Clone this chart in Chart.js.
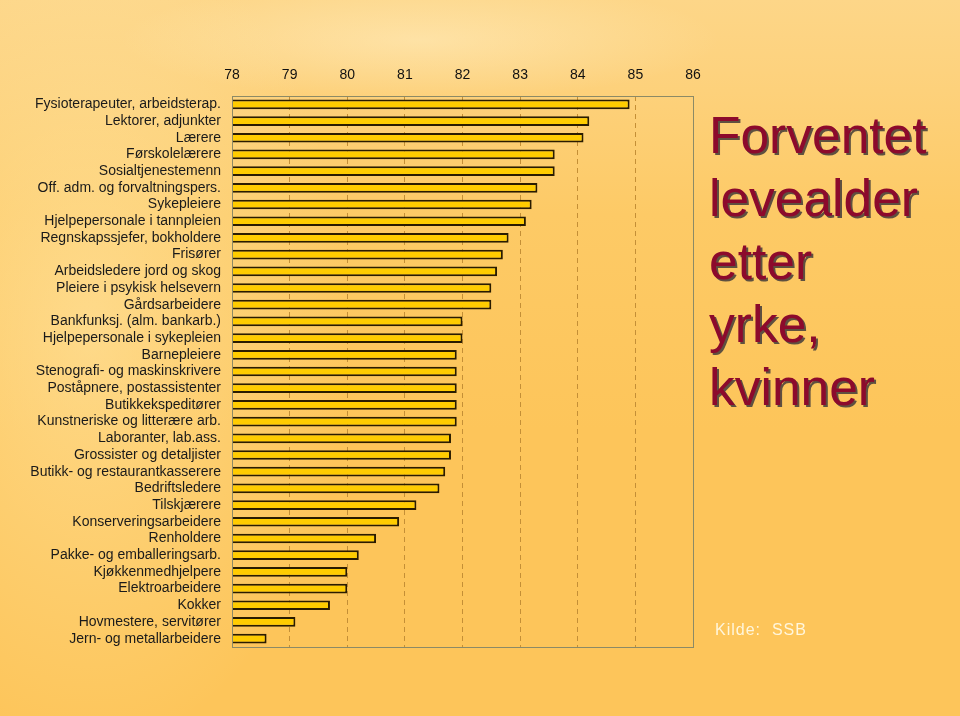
<!DOCTYPE html>
<html>
<head>
<meta charset="utf-8">
<script src="https://cdn.jsdelivr.net/npm/chart.js@4/dist/chart.umd.min.js"></script>
<style>
    html, body { margin: 0; padding: 0; }
    body {
        width: 960px; height: 716px; overflow: hidden; position: relative;
        background:
            radial-gradient(ellipse 260px 420px at 90px 330px, rgba(255, 236, 180, 0.5), rgba(255, 236, 180, 0) 100%),
            radial-gradient(ellipse 300px 60px at 420px 40px, rgba(255, 240, 200, 0.5), rgba(255, 240, 200, 0) 100%),
            linear-gradient(to bottom, #fdd688 0%, #fdd27e 10%, #fdca66 30%, #fdc55a 60%, #fdc55a 100%);
    }
    #chart { position: absolute; left: 0; top: 0; }
    .title {
        position: absolute; left: 709px; top: 104px;
        font-family: "Liberation Sans", Arial, sans-serif; font-size: 51.5px; line-height: 63px;
        color: #8c0a2c; text-shadow: 2px 2px 0 #5e5040;
    }
    .source {
        position: absolute; left: 715px; top: 621px;
        font-family: "Liberation Sans", Arial, sans-serif; font-size: 16px; letter-spacing: 1px;
        color: #fff6dc;
    }
</style>
</head>
<body>
<canvas id="chart" width="960" height="716"></canvas>
<div class="title">Forventet<br>levealder<br>etter<br>yrke,<br>kvinner</div>
<div class="source">Kilde:&nbsp; SSB</div>
<script>
// Occupations, top to bottom
const occupations = [
    'Fysioterapeuter, arbeidsterap.', 'Lektorer, adjunkter', 'Lærere', 'Førskolelærere',
    'Sosialtjenestemenn', 'Off. adm. og forvaltningspers.', 'Sykepleiere',
    'Hjelpepersonale i tannpleien', 'Regnskapssjefer, bokholdere', 'Frisører',
    'Arbeidsledere jord og skog', 'Pleiere i psykisk helsevern', 'Gårdsarbeidere',
    'Bankfunksj. (alm. bankarb.)', 'Hjelpepersonale i sykepleien', 'Barnepleiere',
    'Stenografi- og maskinskrivere', 'Poståpnere, postassistenter', 'Butikkekspeditører',
    'Kunstneriske og litterære arb.', 'Laboranter, lab.ass.', 'Grossister og detaljister',
    'Butikk- og restaurantkasserere', 'Bedriftsledere', 'Tilskjærere',
    'Konserveringsarbeidere', 'Renholdere', 'Pakke- og emballeringsarb.',
    'Kjøkkenmedhjelpere', 'Elektroarbeidere', 'Kokker', 'Hovmestere, servitører',
    'Jern- og metallarbeidere'
];

// Expected life span (years)
const lifeExpectancy = [
    84.9, 84.2, 84.1, 83.6, 83.6, 83.3, 83.2, 83.1, 82.8, 82.7, 82.6,
    82.5, 82.5, 82.0, 82.0, 81.9, 81.9, 81.9, 81.9, 81.9, 81.8, 81.8,
    81.7, 81.6, 81.2, 80.9, 80.5, 80.2, 80.0, 80.0, 79.7, 79.1, 78.6
];

const axisMin = 78;
const axisMax = 86;

// box around the plot area
const plotFrame = {
    id: 'plotFrame',
    afterDatasetsDraw(chart) {
        const a = chart.chartArea;
        const ctx = chart.ctx;
        ctx.save();
        ctx.strokeStyle = '#8c8a66';
        ctx.lineWidth = 1;
        ctx.strokeRect(a.left + 0.5, a.top + 0.5, a.right - a.left, a.bottom - a.top);
        ctx.restore();
    }
};

new Chart(document.getElementById('chart'), {
    type: 'bar',
    data: {
        labels: occupations,
        datasets: [{
            data: lifeExpectancy,
            backgroundColor: '#ffcc00',
            borderColor: '#2a1c00',
            borderWidth: 2,
            borderSkipped: false,
            barPercentage: 0.58,
            categoryPercentage: 1
        }]
    },
    options: {
        indexAxis: 'y',
        responsive: false,
        animation: false,
        layout: { padding: { top: 0, right: 267, bottom: 69, left: 0 } },
        plugins: {
            legend: { display: false },
            tooltip: { enabled: false }
        },
        scales: {
            x: {
                position: 'top',
                min: axisMin,
                max: axisMax,
                ticks: {
                    stepSize: 1,
                    color: '#111',
                    padding: 12,
                    font: { family: 'Liberation Sans', size: 14 }
                },
                grid: {
                    drawTicks: false,
                    color: ctx => (ctx.tick.value === axisMin || ctx.tick.value === axisMax) ? 'rgba(0,0,0,0)' : '#c48f36'
                },
                border: { display: false, dash: [5, 4] },
                afterFit: scale => { scale.height = 96; }
            },
            y: {
                ticks: {
                    color: '#1a1a1a',
                    padding: 3,
                    autoSkip: false,
                    font: { family: 'Liberation Sans', size: 14 }
                },
                grid: { display: false },
                border: { display: false },
                afterFit: scale => { scale.width = 232; }
            }
        }
    },
    plugins: [plotFrame]
});
</script>
</body>
</html>
